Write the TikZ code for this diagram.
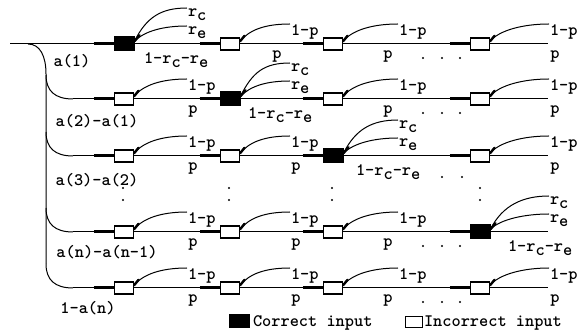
\documentclass[tikz,border=0pt]{standalone}
\usetikzlibrary{calc}
\tikzset{
  txt/.style={font=\ttfamily\bfseries\fontsize{17.5}{20}\selectfont, inner sep=0.5pt},
  inbox/.style={draw, line width=1.1pt, fill=white, minimum width=19pt, minimum height=12pt, inner sep=0pt},
  okbox/.style={draw, line width=1pt, fill=black, minimum width=20pt, minimum height=14pt, inner sep=0pt},
  feed/.style={line width=3pt},
  tail/.style={line width=2.4pt, line cap=round},
}
\newcommand{\lowr}[1]{\raisebox{-3.5pt}{#1}}

\begin{document}
\begin{tikzpicture}[x=1pt, y=-1pt, line width=1pt]
  \useasboundingbox (0,0) rectangle (579,336);
  % rows
  \foreach \r/\y in {1/44,2/99,3/156,4/232,5/288}{
    \coordinate (s\r) at (73,\y);
    \coordinate (e\r) at (548,\y);
  }
  \coordinate (s1) at (10,44);
  \coordinate (fork) at (28,44);
  \coordinate (top) at (46,74);
  \coordinate (bot) at (46,264);
  \draw (fork) .. controls (40,44) and (46,56) .. (top) -- (bot);
  \foreach \r in {2,...,5}
    \draw ($(s\r)+(-27,-24)$) .. controls +(0,16) and +(-18,0) .. (s\r);
  \foreach \r in {1,...,5}
    \draw (s\r) -- (e\r);
  % boxes and branches
  \foreach \r/\y in {1/44,2/99,3/156,4/232,5/288}
  \foreach \c/\x/\lx/\px/\nx in {1/124/187/193/143, 2/230/290/296/247, 3/333/398/388/355, 4/480/549/555/507}{
    \ifnum\r=\c\relax\def\st{okbox}\else\def\st{inbox}\fi
    \ifnum\r\c=12 \def\px{277}\fi
    \node[\st] (b\r\c) at (\x,\y) {};
    \draw[feed] ($(b\r\c.west)+(-20,0)$) -- (b\r\c.west);
    \ifnum\r=\c\relax
      \node[txt, anchor=north west] (rc\r) at (\lx,\y-36) {r\lowr{c}};
      \node[txt, anchor=north west] (re\r) at (\lx,\y-18) {r\lowr{e}};
      \node[txt, anchor=north west] (n\r) at (\nx,\y+8) {1-r\lowr{c}-r\lowr{e}};
      \draw (b\r\c.15) .. controls +(12,-24) and +(-26,0) .. (rc\r.north west);
      \draw (b\r\c.15) .. controls +(10,-10) and +(-24,0) .. (re\r.north west);
      \draw[tail] (b\r\c.15) -- +(5,-6);
    \else
      \node[txt, anchor=north west] (q\r\c) at (\lx,\y-20) {1-p};
      \node[txt, anchor=north] (p\r\c) at (\px,\y+6) {p};
      \draw (b\r\c.15) .. controls +(9,-11) and +(-26,0) .. (q\r\c.north west);
      \draw[tail] (b\r\c.15) -- +(4.5,-5.5);
    \fi
  }
  % dots
  \foreach \y in {44,99,232,288}
    \foreach \x in {423,442,460} \fill (\x,\y+14) circle (1.1pt);
  \foreach \x in {442,462} \fill (\x,177) circle (1.1pt);
  \foreach \x in {123,229,332,480}
    \foreach \y in {188,200} \fill (\x,\y) circle (1.1pt);
  % shares
  \node[txt] (a1) at (72,61) {a(1)};
  \node[txt] (a2) at (97,121) {a(2)-a(1)};
  \node[txt] (a3) at (97,180) {a(3)-a(2)};
  \node[txt] (an) at (107,252) {a(n)-a(n-1)};
  \node[txt] (a0) at (88,308) {1-a(n)};
  % legend
  \node[okbox, minimum height=13pt] (kok) at (239.5,321) {};
  \node[txt, anchor=base west] (kokt) at ([shift={(2,6)}]kok.east) {Correct input};
  \node[inbox, minimum width=17pt, minimum height=11pt] (kin) at (414,322) {};
  \node[txt, anchor=base west] (kint) at ([shift={(0,5)}]kin.east) {Incorrect input};
\end{tikzpicture}
\end{document}
